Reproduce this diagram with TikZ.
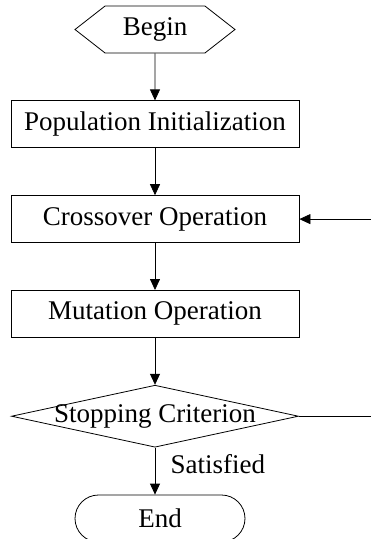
\documentclass[tikz,border=0pt]{standalone}
\usepackage{fontspec}
\setmainfont{Liberation Serif}
\usetikzlibrary{arrows.meta,positioning,shapes.geometric,shapes.misc,shapes.symbols}

\begin{document}
\begin{tikzpicture}[x=1pt,y=1pt,>={Triangle[length=11pt,width=10pt]},line width=0.8pt,node distance=47pt,
	font=\fontsize{27}{32}\selectfont,
	box/.style={draw,rectangle,inner sep=0pt,minimum width=288pt,minimum height=47pt},
	hex/.style={draw,signal,signal to=west and east,signal pointer angle=76,inner sep=0pt,minimum width=160pt,minimum height=47pt},
	test/.style={draw,diamond,aspect=4.6,inner xsep=-20pt,inner ysep=0pt,minimum width=287pt,minimum height=62pt},
	term/.style={draw,rounded rectangle,inner sep=0pt,minimum width=170pt,minimum height=47pt}]

\useasboundingbox (0,0) rectangle (371,-539);

\node[hex]   (b)  at (155,-29.5)     {Begin};
\node[box]   (pi) [below=of b]       {Population Initialization};
\node[box]   (co) [below=of pi]      {Crossover Operation};
\node[box]   (mo) [below=of co]      {Mutation Operation};
\node[test]  (sc) [below=of mo]      {Stopping Criterion};
\node[term]  (e)  [below=of sc,xshift=5pt] {End};

\coordinate[right=72pt of co] (cin);
\coordinate[right=73pt of sc] (sout);

\draw[->] (b)  -- (pi);
\draw[->] (pi) -- (co);
\draw[->] (co) -- (mo);
\draw[->] (mo) -- (sc);
\draw[->] (sc.south) -- node[pos=.35,right=12pt]{Satisfied} (sc.south |- e.north);
\draw[->] (cin) -- (co);
\draw (sc.east) -- (sout);

\end{tikzpicture}
\end{document}
